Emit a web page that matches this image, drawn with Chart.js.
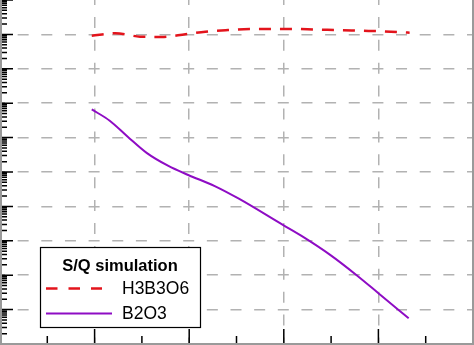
<!DOCTYPE html>
<html>
<head>
<meta charset="utf-8">
<script src="https://cdn.jsdelivr.net/npm/chart.js@4"></script>
<style>
  html, body { margin: 0; padding: 0; background: #fff; }
  #wrap { width: 474px; height: 345px; }
</style>
</head>
<body>
<div id="wrap"><canvas id="sqChart" width="474" height="345"></canvas></div>
<script>
// axis ticks (no labels are visible in the cropped figure)
const xMajorTicks = [0, 1, 2, 3, 4, 5];
const xMinorTicks = [0.5, 1.5, 2.5, 3.5, 4.5];
const yDecades = [1e-9, 1e-8, 1e-7, 1e-6, 1e-5, 1e-4, 1e-3, 1e-2, 1e-1, 1e0, 1e1];

// series
const seriesNames = ['H3B3O6', 'B2O3'];
const legendTitle = 'S/Q simulation';

const h3b3o6X = [0.97, 1.22, 1.48, 1.71, 1.96, 2.17, 2.41, 2.64, 2.85, 3.10, 3.35, 3.57, 3.81, 4.04, 4.26, 4.33];
const h3b3o6Y = [0.92, 1.08, 0.86, 0.84, 1.01, 1.20, 1.34, 1.44, 1.44, 1.44, 1.37, 1.34, 1.28, 1.23, 1.15, 1.12];

const b2o3X = [0.97, 1.16, 1.35, 1.55, 1.78, 1.99, 2.27, 2.52, 2.99, 3.20, 3.49, 3.77, 4.00, 4.32];
const b2o3Y = [6.6e-3, 3.1e-3, 1.06e-3, 3.6e-4, 1.5e-4, 8.2e-5, 3.9e-5, 1.7e-5, 2.9e-6, 1.32e-6, 3.9e-7, 1.0e-7, 3.0e-8, 5.6e-9];

const redColor = '#e3141c';
const purpleColor = '#8e0cc4';

function toPoints(xs, ys) {
    return xs.map((x, i) => ({ x: x, y: ys[i] }));
}

// inward ticks + frame, drawn from the scales
const frameTicks = {
    id: 'frameTicks',
    afterDatasetsDraw(chart) {
        const { ctx, chartArea: a, scales: { x, y } } = chart;
        const yMax = yDecades[yDecades.length - 1];
        ctx.save();
        ctx.strokeStyle = '#000';
        ctx.lineWidth = 1.5;
        ctx.beginPath();
        yDecades.forEach(d => {
            for (let k = 1; k <= 9; k++) {
                const v = d * k;
                if (v > yMax) break;
                const py = y.getPixelForValue(v);
                const len = k === 1 ? 13 : 7;
                ctx.moveTo(a.left, py);
                ctx.lineTo(a.left + len, py);
            }
        });
        xMajorTicks.forEach(v => {
            const px = x.getPixelForValue(v);
            ctx.moveTo(px, a.bottom);
            ctx.lineTo(px, a.bottom - 15);
        });
        xMinorTicks.forEach(v => {
            const px = x.getPixelForValue(v);
            ctx.moveTo(px, a.bottom);
            ctx.lineTo(px, a.bottom - 8);
        });
        ctx.stroke();

        // frame
        ctx.strokeStyle = '#9a9a9a';
        ctx.lineWidth = 2;
        ctx.beginPath();
        ctx.moveTo(a.left + 1, a.top);
        ctx.lineTo(a.left + 1, a.bottom);
        ctx.lineTo(a.right, a.bottom);
        ctx.lineTo(a.right, a.top);
        ctx.stroke();
        ctx.restore();
    }
};

// boxed legend with a title, inside the plot
const boxLegend = {
    id: 'boxLegend',
    afterDraw(chart) {
        const ctx = chart.ctx;
        const ds = chart.data.datasets;
        ctx.save();
        ctx.fillStyle = '#fff';
        ctx.fillRect(40.5, 247.5, 160, 80);
        ctx.strokeStyle = '#000';
        ctx.lineWidth = 1.2;
        ctx.strokeRect(40.5, 247.5, 160, 80);

        ctx.fillStyle = '#000';
        ctx.textBaseline = 'middle';
        ctx.textAlign = 'center';
        ctx.font = 'bold 16.5px "Liberation Sans", Arial, sans-serif';
        ctx.fillText(legendTitle, 120, 266);

        const rows = [
            { y: 288.5, x2: 102, text: ds[0].label, color: ds[0].borderColor, dash: [11.5, 11], w: 2.5 },
            { y: 313.5, x2: 112, text: ds[1].label, color: ds[1].borderColor, dash: [], w: 2 }
        ];
        ctx.textAlign = 'left';
        ctx.font = '17.5px "Liberation Sans", Arial, sans-serif';
        rows.forEach(r => {
            ctx.strokeStyle = r.color;
            ctx.lineWidth = r.w;
            ctx.setLineDash(r.dash);
            ctx.beginPath();
            ctx.moveTo(46, r.y);
            ctx.lineTo(r.x2, r.y);
            ctx.stroke();
            ctx.setLineDash([]);
            ctx.fillText(r.text, 122, r.y + 0.5);
        });
        ctx.restore();
    }
};

document.addEventListener('DOMContentLoaded', function () {
    const ctx = document.getElementById('sqChart').getContext('2d');

    new Chart(ctx, {
        type: 'line',
        data: {
            datasets: [{
                label: seriesNames[0],
                data: toPoints(h3b3o6X, h3b3o6Y),
                borderColor: redColor,
                borderWidth: 2.5,
                borderDash: [12, 9],
                pointRadius: 0,
                cubicInterpolationMode: 'monotone',
                fill: false
            },
            {
                label: seriesNames[1],
                data: toPoints(b2o3X, b2o3Y),
                borderColor: purpleColor,
                borderWidth: 2,
                pointRadius: 0,
                cubicInterpolationMode: 'monotone',
                fill: false
            }]
        },
        options: {
            responsive: false,
            animation: false,
            devicePixelRatio: 1,
            layout: { padding: { left: 0, right: 1, top: 0, bottom: 1 } },
            plugins: {
                legend: { display: false },
                tooltip: { enabled: false }
            },
            scales: {
                x: {
                    type: 'linear',
                    min: xMajorTicks[0],
                    max: xMajorTicks[xMajorTicks.length - 1],
                    afterBuildTicks: axis => { axis.ticks = xMajorTicks.map(v => ({ value: v })); },
                    ticks: { display: false },
                    grid: {
                        color: (c) => (c.index === 0 || c.index === xMajorTicks.length - 1) ? 'rgba(0,0,0,0)' : '#b2b2b2',
                        lineWidth: 1.5,
                        drawTicks: false
                    },
                    border: { display: false, dash: [11, 11.9], dashOffset: 6 }
                },
                y: {
                    type: 'logarithmic',
                    min: yDecades[0],
                    max: yDecades[yDecades.length - 1],
                    afterBuildTicks: axis => { axis.ticks = yDecades.map(v => ({ value: v })); },
                    ticks: { display: false },
                    grid: {
                        color: (c) => (c.index === 0 || c.index === yDecades.length - 1) ? 'rgba(0,0,0,0)' : '#b2b2b2',
                        lineWidth: 1.5,
                        drawTicks: false
                    },
                    border: { display: false, dash: [11, 12.65], dashOffset: 6 }
                }
            }
        },
        plugins: [frameTicks, boxLegend]
    });
});
</script>
</body>
</html>
